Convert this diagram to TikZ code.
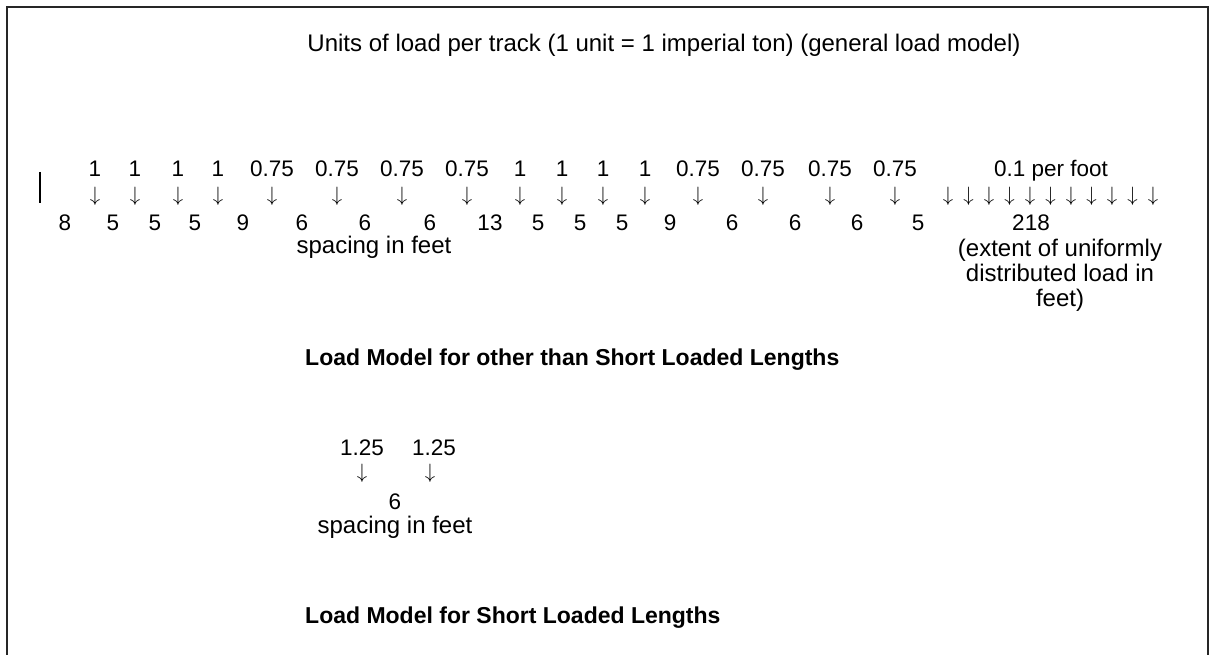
\documentclass[tikz,border=0pt]{standalone}
\usepackage{fontspec}
\setmainfont{Liberation Sans}
\begin{document}
\begin{tikzpicture}[x=1pt,y=-1pt,
  num/.style={inner sep=0pt,anchor=base,font=\fontsize{22.5}{25}\selectfont},
  lbl/.style={inner sep=0pt,anchor=base,font=\fontsize{24}{25}\selectfont},
  ttl/.style={inner sep=0pt,anchor=base west,font=\fontsize{23}{25}\selectfont\bfseries},
  arr/.style={inner sep=0pt,anchor=center,font=\fontsize{21}{24}\selectfont},
  frame/.style={line width=2pt,draw=black!85}]
\useasboundingbox (0,0) rectangle (1210,655);
\begin{scope}
\clip (0,0) rectangle (1210,655);
\draw[frame] (6.5,670) -- (6.5,7.5) -- (1207.5,7.5) -- (1207.5,670);
\end{scope}
% title
\node[lbl] (title) at (664,52) {Units of load per track (1 unit = 1 imperial ton) (general load model)};
% left bar
\coordinate (bt) at (40,172);
\coordinate (bb) at (40,203);
\draw[line width=1.3pt] (bt) -- (bb);
% loads and arrows
\foreach \x/\v [count=\i] in {95/1,135/1,178/1,218/1,272/0.75,337/0.75,402/0.75,467/0.75,520/1,562/1,603/1,645/1,698/0.75,763/0.75,830/0.75,895/0.75}{
  \node[num] (L\i) at (\x,177) {\v};
  \node[arr] (A\i) at (\x,196) {$\downarrow$};
}
\foreach \i in {0,...,10}{
  \node[arr] (U\i) at ({948+20.5*\i},196) {$\downarrow$};
}
\node[num] (udl) at (1051,177) {0.1 per foot};
% spacings
\foreach \x/\v [count=\i] in {65/8,113/5,155/5,195/5,243/9,302/6,365/6,430/6,490/13,538/5,580/5,622/5,670/9,732/6,795/6,857/6,918/5}{
  \node[num] (S\i) at (\x,230) {\v};
}
\node[num] (ext) at (1031,230) {218};
\node[lbl] (sp1) at (374,253) {spacing in feet};
\node[lbl] (e1) at (1060,256) {(extent of uniformly};
\node[lbl] (e2) at (1060,281) {distributed load in};
\node[lbl] (e3) at (1060,306) {feet)};
\node[ttl] (t1) at (305,365) {Load Model for other than Short Loaded Lengths};
% short loaded lengths
\node[num] (P1) at (362,455) {1.25};
\node[num] (P2) at (434,455) {1.25};
\node[arr] (B1) at (362,473) {$\downarrow$};
\node[arr] (B2) at (430,473) {$\downarrow$};
\node[num] (s6) at (395,509) {6};
\node[lbl] (sp2) at (395,533) {spacing in feet};
\node[ttl] (t2) at (305,623) {Load Model for Short Loaded Lengths};
\end{tikzpicture}
\end{document}
